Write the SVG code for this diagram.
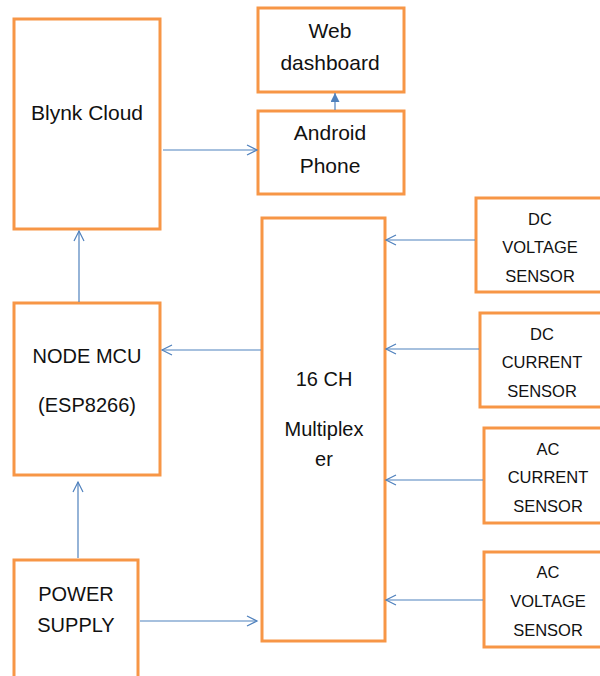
<svg xmlns="http://www.w3.org/2000/svg" width="600" height="676" viewBox="0 0 600 676">
<style>
.box{fill:#fff;stroke:#F79646;stroke-width:3}
.t{font-family:"Liberation Sans",Arial,sans-serif;fill:#111;text-anchor:middle}
.big{font-size:21px}
.mid{font-size:20px}
.sm{font-size:16.5px}
.ln{stroke:#4F81BD;stroke-width:1.2;fill:none}
</style>
<defs>
<marker id="open" markerUnits="userSpaceOnUse" markerWidth="14" markerHeight="14" refX="11" refY="6" orient="auto">
<path d="M1,1 L11,6 L1,11" fill="none" stroke="#4F81BD" stroke-width="1.2"/>
</marker>
<marker id="fill" markerUnits="userSpaceOnUse" markerWidth="12" markerHeight="12" refX="9" refY="4.5" orient="auto">
<path d="M0,0 L9,4.5 L0,9 Z" fill="#4F81BD"/>
</marker>
</defs>
<rect width="600" height="676" fill="#fff"/>
<g id="blynk"><rect class="box" x="14" y="19" width="146" height="210"/><text class="t big" x="87" y="120">Blynk Cloud</text></g>
<g id="web"><rect class="box" x="258" y="8" width="146" height="84"/><text class="t big" x="330" y="38">Web</text><text class="t big" x="330" y="70">dashboard</text></g>
<g id="android"><rect class="box" x="258" y="111" width="146" height="83"/><text class="t big" x="330" y="140">Android</text><text class="t big" x="330" y="173">Phone</text></g>
<g id="nodemcu"><rect class="box" x="14" y="303" width="146" height="172"/><text class="t mid" x="87" y="363">NODE MCU</text><text class="t mid" x="87" y="412">(ESP8266)</text></g>
<g id="power"><rect class="box" x="14" y="560" width="124" height="130"/><text class="t mid" x="76" y="601">POWER</text><text class="t mid" x="76" y="632">SUPPLY</text></g>
<g id="mux"><rect class="box" x="262" y="218" width="123" height="423"/><text class="t mid" x="324" y="386">16 CH</text><text class="t mid" x="324" y="436">Multiplex</text><text class="t mid" x="324" y="466">er</text></g>
<g id="dcv"><rect class="box" x="476" y="198" width="130" height="94"/><text class="t sm" x="540" y="225">DC</text><text class="t sm" x="540" y="253">VOLTAGE</text><text class="t sm" x="540" y="282">SENSOR</text></g>
<g id="dcc"><rect class="box" x="480" y="313" width="126" height="94"/><text class="t sm" x="542" y="340">DC</text><text class="t sm" x="542" y="368">CURRENT</text><text class="t sm" x="542" y="397">SENSOR</text></g>
<g id="acc"><rect class="box" x="484" y="428" width="122" height="95"/><text class="t sm" x="548" y="455">AC</text><text class="t sm" x="548" y="483">CURRENT</text><text class="t sm" x="548" y="512">SENSOR</text></g>
<g id="acv"><rect class="box" x="484" y="552" width="122" height="95"/><text class="t sm" x="548" y="578">AC</text><text class="t sm" x="548" y="607">VOLTAGE</text><text class="t sm" x="548" y="636">SENSOR</text></g>
<g id="connectors">
<line class="ln" x1="163" y1="150" x2="257" y2="150" marker-end="url(#open)"/>
<line class="ln" x1="335" y1="110" x2="335" y2="93" marker-end="url(#fill)"/>
<line class="ln" x1="79" y1="302" x2="79" y2="231" marker-end="url(#open)"/>
<line class="ln" x1="261" y1="350" x2="162" y2="350" marker-end="url(#open)"/>
<line class="ln" x1="78" y1="558" x2="78" y2="482" marker-end="url(#open)"/>
<line class="ln" x1="140" y1="621" x2="257" y2="621" marker-end="url(#open)"/>
<line class="ln" x1="475" y1="240" x2="386" y2="240" marker-end="url(#open)"/>
<line class="ln" x1="479" y1="349" x2="386" y2="349" marker-end="url(#open)"/>
<line class="ln" x1="483" y1="480" x2="386" y2="480" marker-end="url(#open)"/>
<line class="ln" x1="483" y1="600" x2="386" y2="600" marker-end="url(#open)"/>
</g>
</svg>
